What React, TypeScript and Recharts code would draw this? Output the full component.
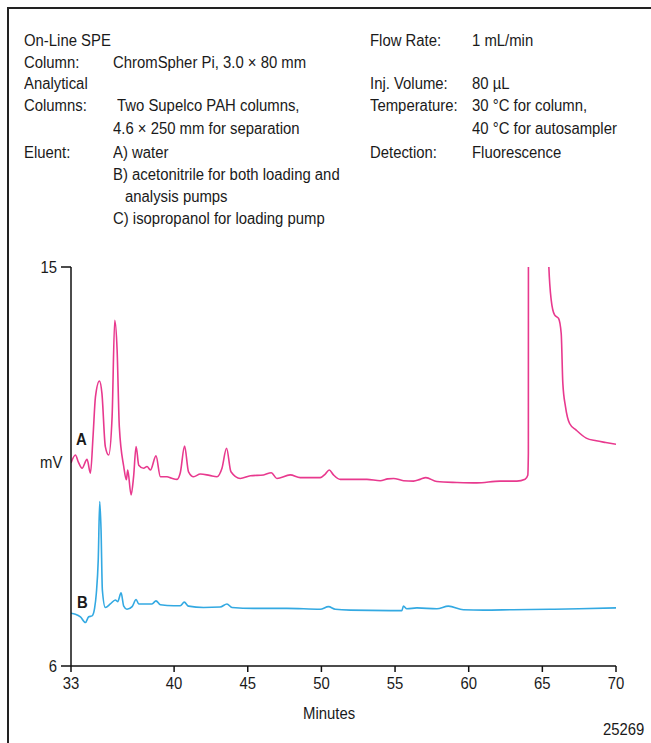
import React from "react";
import { LineChart, Line, XAxis, YAxis } from "recharts";

const minutesA = [33.0, 33.3, 33.5, 33.75, 34.09, 34.32, 34.5, 34.66, 34.93, 35.1, 35.33, 35.56, 35.79, 35.97, 36.13, 36.28, 36.58, 36.76, 36.85, 37.08, 37.25, 37.42, 37.6, 37.93, 38.16, 38.39, 38.77, 39.07, 39.52, 39.8, 40.2, 40.42, 40.71, 40.98, 41.32, 41.78, 42.4, 42.91, 43.25, 43.56, 43.86, 44.49, 45.18, 46.07, 46.6, 46.98, 47.88, 48.56, 49.92, 50.26, 50.53, 50.82, 51.28, 53.09, 53.99, 54.5, 54.9, 55.57, 56.25, 56.7, 57.09, 57.84, 59.2, 60.55, 62.13, 63.27, 63.83, 64.01, 64.05, 64.07, 65.38, 65.42, 65.6, 65.83, 66.1, 66.28, 66.39, 66.57, 66.85, 67.3, 67.98, 68.66, 69.3, 70.0];
const valuesA = [10.58, 10.76, 10.6, 10.46, 10.66, 10.35, 11.2, 12.07, 12.43, 12.15, 10.95, 10.76, 11.62, 13.8, 13.13, 11.4, 10.5, 10.2, 10.42, 9.86, 10.27, 10.95, 10.53, 10.46, 10.5, 10.42, 10.74, 10.27, 10.27, 10.24, 10.21, 10.36, 10.96, 10.38, 10.27, 10.33, 10.3, 10.27, 10.46, 10.91, 10.38, 10.23, 10.29, 10.31, 10.36, 10.23, 10.31, 10.25, 10.25, 10.33, 10.42, 10.31, 10.21, 10.21, 10.18, 10.22, 10.23, 10.18, 10.17, 10.21, 10.25, 10.16, 10.14, 10.13, 10.17, 10.17, 10.21, 10.3, 10.8, 30, 30, 15.2, 14.26, 13.92, 13.84, 13.5, 12.38, 11.85, 11.47, 11.32, 11.14, 11.08, 11.04, 11.0];

const minutesB = [33.0, 33.3, 33.64, 33.98, 34.2, 34.43, 34.6, 34.72, 34.85, 34.95, 35.04, 35.13, 35.33, 35.67, 36.01, 36.17, 36.4, 36.58, 36.8, 37.15, 37.42, 37.6, 38.16, 38.5, 38.77, 39.07, 39.97, 40.42, 40.69, 40.98, 42.0, 43.13, 43.59, 43.93, 45.4, 47.66, 49.92, 50.48, 50.94, 51.96, 54.7, 55.46, 55.57, 55.8, 56.48, 57.84, 58.62, 59.64, 61.0, 63.0, 65.5, 67.5, 70.0];
const valuesB = [7.19, 7.17, 7.11, 6.98, 7.11, 7.13, 7.3, 7.64, 8.4, 9.71, 9.07, 7.71, 7.32, 7.4, 7.49, 7.45, 7.65, 7.35, 7.28, 7.34, 7.5, 7.4, 7.4, 7.4, 7.47, 7.38, 7.36, 7.36, 7.44, 7.35, 7.32, 7.33, 7.4, 7.32, 7.3, 7.3, 7.28, 7.34, 7.28, 7.26, 7.25, 7.25, 7.35, 7.29, 7.31, 7.29, 7.35, 7.27, 7.26, 7.27, 7.28, 7.29, 7.31];

const xTicks = [33, 40, 45, 50, 55, 60, 65, 70];
const yTicks = [6, 15];

const leftRows = [
  { label: "On-Line SPE", value: "", y: 41, vx: 113 },
  { label: "Column:", value: "ChromSpher Pi, 3.0 \u00d7 80 mm", y: 63, vx: 113 },
  { label: "Analytical", value: "", y: 84, vx: 113 },
  { label: "Columns:", value: "Two Supelco PAH columns,", y: 106, vx: 117 },
  { label: "", value: "4.6 \u00d7 250 mm for separation", y: 129, vx: 113 },
  { label: "Eluent:", value: "A) water", y: 153, vx: 113 },
  { label: "", value: "B) acetonitrile for both loading and", y: 175, vx: 113 },
  { label: "", value: "analysis pumps", y: 197, vx: 125 },
  { label: "", value: "C) isopropanol for loading pump", y: 219, vx: 113 },
];
const rightRows = [
  { label: "Flow Rate:", value: "1 mL/min", y: 41 },
  { label: "Inj. Volume:", value: "80 \u00b5L", y: 84 },
  { label: "Temperature:", value: "30 \u00b0C for column,", y: 106 },
  { label: "", value: "40 \u00b0C for autosampler", y: 129 },
  { label: "Detection:", value: "Fluorescence", y: 153 },
];

const dataA = minutesA.map((m, i) => ({ t: m, a: valuesA[i] }));
const dataB = minutesB.map((m, i) => ({ t: m, b: valuesB[i] }));

const FONT = "'Liberation Sans', Arial, sans-serif";
const FS = 16;
const SX = 0.93;
const PINK = "#e8398e";
const BLUE = "#33a9e2";
const INK = "#1a1a1a";

const txt = (x: number, y: number, s: string, extra: React.CSSProperties = {}) => (
  <div
    key={`${x}-${y}-${s}`}
    style={{
      position: "absolute",
      left: x,
      top: y - 10,
      height: 20,
      lineHeight: "20px",
      fontFamily: FONT,
      fontSize: FS,
      color: INK,
      whiteSpace: "nowrap",
      transform: `scaleX(${SX})`,
      transformOrigin: "0 50%",
      ...extra,
    }}
  >
    {s}
  </div>
);

const XTick = (props: any) => {
  const { x, y, payload } = props;
  return (
    <g transform={`translate(${x},${y})`}>
      <text x={0} y={0} dy="0.75em" textAnchor="middle" transform={`scale(${SX},1)`} fill={INK} fontSize={FS} fontFamily={FONT}>
        {payload.value}
      </text>
    </g>
  );
};

const YTick = (props: any) => {
  const { x, y, payload } = props;
  return (
    <g transform={`translate(${x},${y})`}>
      <text x={0} y={0} dy="0.36em" textAnchor="end" transform={`scale(${SX},1)`} fill={INK} fontSize={FS} fontFamily={FONT}>
        {payload.value}
      </text>
    </g>
  );
};

export default function App() {
  return (
    <div style={{ position: "absolute", left: 0, top: 0, width: 651, height: 743, overflow: "hidden", background: "#fff" }}>
      <div
        style={{
          position: "absolute",
          left: 7,
          top: 7,
          width: 644,
          height: 736,
          boxSizing: "border-box",
          borderLeft: "2px solid #222",
          borderTop: "2px solid #222",
        }}
      />
      {leftRows.map((r) => (
        <React.Fragment key={`l${r.y}`}>
          {r.label ? txt(24, r.y, r.label) : null}
          {r.value ? txt(r.vx, r.y, r.value) : null}
        </React.Fragment>
      ))}
      {rightRows.map((r) => (
        <React.Fragment key={`r${r.y}`}>
          {r.label ? txt(370, r.y, r.label) : null}
          {r.value ? txt(472, r.y, r.value) : null}
        </React.Fragment>
      ))}
      <div style={{ position: "absolute", left: 0, top: 0 }}>
        <LineChart width={651} height={743} margin={{ top: 267, right: 35, bottom: 0, left: 0 }}>
          <XAxis
            type="number"
            dataKey="t"
            domain={[33, 70]}
            ticks={xTicks}
            allowDataOverflow
            height={77}
            stroke="#111"
            strokeWidth={1.5}
            tickSize={6}
            tickMargin={5}
            tick={<XTick />}
          />
          <YAxis
            type="number"
            domain={[6, 15]}
            ticks={yTicks}
            allowDataOverflow
            width={71}
            stroke="#111"
            strokeWidth={1.5}
            tickSize={10}
            tickMargin={4}
            tick={<YTick />}
          />
          <Line data={dataA} dataKey="a" type="monotone" stroke={PINK} strokeWidth={1.6} dot={false} isAnimationActive={false} />
          <Line data={dataB} dataKey="b" type="monotone" stroke={BLUE} strokeWidth={1.6} dot={false} isAnimationActive={false} />
        </LineChart>
      </div>
      {txt(40, 463, "mV")}
      {txt(76, 440, "A", { fontWeight: "bold" })}
      {txt(77, 603, "B", { fontWeight: "bold" })}
      {txt(303, 714, "Minutes")}
      {txt(603, 730, "25269")}
    </div>
  );
}
